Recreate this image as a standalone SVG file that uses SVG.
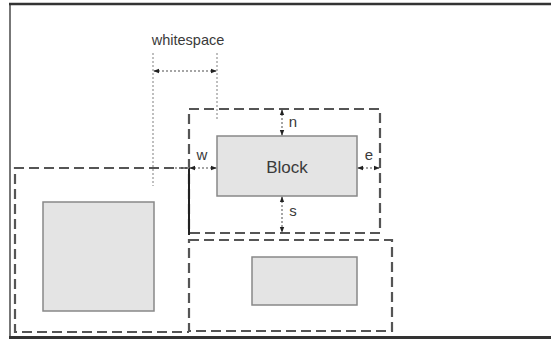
<svg xmlns="http://www.w3.org/2000/svg" width="551" height="339" viewBox="0 0 551 339">
<defs>
<style>
.dash{fill:none;stroke:#555;stroke-width:2.2;stroke-dasharray:10,5}
.gray{fill:#e4e4e4;stroke:#888;stroke-width:1.5}
.dot{fill:none;stroke:#aaa;stroke-width:1.5;stroke-dasharray:2,2}
.arr{fill:none;stroke:#888;stroke-width:1.5;stroke-dasharray:2,2}
.lbl{font-family:"Liberation Sans",Arial,sans-serif;fill:#3a3a3a}
</style>
<marker id="ah" viewBox="0 0 8 8" refX="7" refY="4" markerWidth="6" markerHeight="6" orient="auto-start-reverse" markerUnits="userSpaceOnUse">
<path d="M0,1 L8,4 L0,7 Z" fill="#222"/>
</marker>
</defs>
<rect width="551" height="339" fill="#fff"/>
<g id="frame">
<line x1="10" y1="3" x2="10" y2="339" stroke="#777" stroke-width="2"/>
<line x1="9" y1="4" x2="551" y2="4" stroke="#333" stroke-width="2.5"/>
<line x1="9" y1="337.5" x2="551" y2="337.5" stroke="#333" stroke-width="3"/>
</g>
<g id="left-box">
<path class="dash" d="M189,168 H15 V332 H189"/>
<rect class="gray" x="43" y="202" width="111" height="109"/>
</g>
<g id="block-box">
<rect class="dash" x="189" y="109" width="191" height="124"/>
<rect class="gray" x="217" y="136" width="140" height="60"/>
<text class="lbl" x="287" y="173" font-size="17" text-anchor="middle">Block</text>
</g>
<g id="bottom-box">
<rect class="dash" x="189" y="240" width="203" height="91"/>
<rect class="gray" x="252" y="257" width="105" height="48"/>
</g>
<g id="divider">
<line x1="189" y1="168" x2="189" y2="235" stroke="#222" stroke-width="2"/>
</g>
<g id="connectors">
<line class="dot" x1="153" y1="53" x2="153" y2="186"/>
<line class="dot" x1="217" y1="53" x2="217" y2="120"/>
<line class="arr" x1="154" y1="71" x2="216" y2="71" marker-start="url(#ah)" marker-end="url(#ah)"/>
<line class="arr" x1="175" y1="168" x2="190" y2="168"/>
<line class="arr" x1="190" y1="168" x2="216" y2="168" marker-start="url(#ah)" marker-end="url(#ah)"/>
<line class="arr" x1="358" y1="168" x2="379" y2="168" marker-start="url(#ah)" marker-end="url(#ah)"/>
<line class="arr" x1="282" y1="110" x2="282" y2="135" marker-start="url(#ah)" marker-end="url(#ah)"/>
<line class="arr" x1="282" y1="197" x2="282" y2="232" marker-start="url(#ah)" marker-end="url(#ah)"/>
</g>
<g id="labels">
<text class="lbl" x="188" y="45" font-size="14.5" text-anchor="middle">whitespace</text>
<text class="lbl" x="293" y="127" font-size="15" text-anchor="middle">n</text>
<text class="lbl" x="293" y="216" font-size="15" text-anchor="middle">s</text>
<text class="lbl" x="202" y="160" font-size="15" text-anchor="middle">w</text>
<text class="lbl" x="369" y="160" font-size="15" text-anchor="middle">e</text>
</g>
</svg>
